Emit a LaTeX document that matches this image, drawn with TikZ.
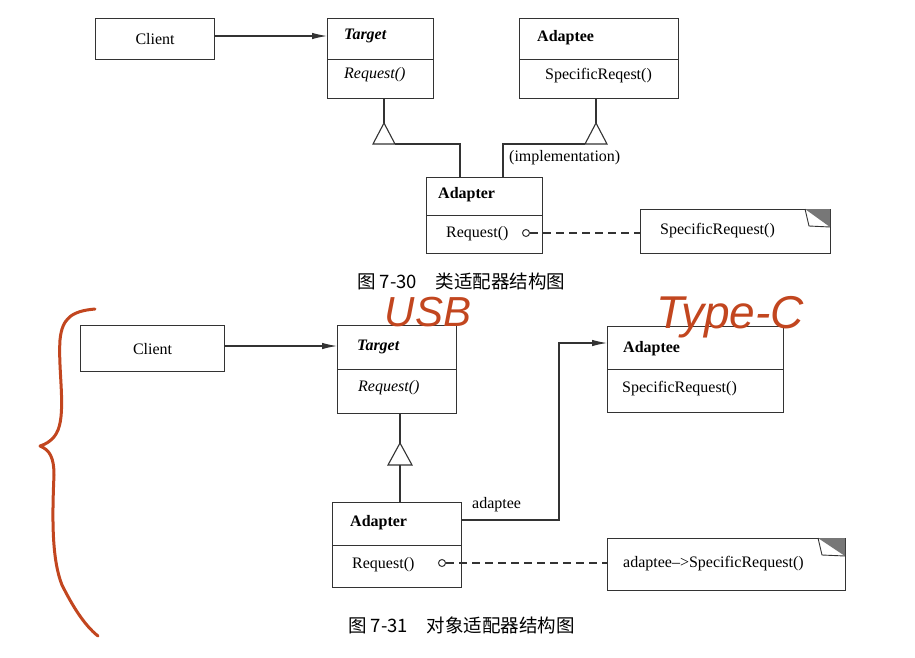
\documentclass[tikz,border=0pt]{standalone}
\usepackage{fontspec}
\setmainfont{Liberation Serif}
\newfontfamily\cjk{Noto Sans CJK SC}
\newfontfamily\handfont{Liberation Sans}
\usetikzlibrary{arrows.meta}
\definecolor{ln}{HTML}{333333}
\definecolor{ink}{HTML}{C2461F}
\definecolor{fold}{HTML}{777777}
\tikzset{
  x=1pt, y=-1pt,
  box/.style={draw=ln, line width=1.2pt, rectangle, inner sep=0pt, anchor=north west},
  lbl/.style={font=\fontsize{16}{18}\selectfont, inner sep=0pt, anchor=west},
  conn/.style={draw=ln, line width=1.1pt},
  assoc/.style={conn, -{Latex[length=15pt,width=6.5pt]}},
  dashln/.style={conn, dash pattern=on 8pt off 5pt},
  opencirc/.style={circle, draw=ln, line width=1pt, fill=white, minimum size=7pt, inner sep=0pt},
  caption/.style={font=\cjk\fontsize{18.5}{20}\selectfont, inner sep=0pt, anchor=west},
  hand/.style={text=ink, inner sep=0pt, anchor=base},
}
\begin{document}
\begin{tikzpicture}
\fill[white] (0,0) rectangle (915,657);
\useasboundingbox (0,0) rectangle (915,657);

% ================= Fig 7-30 =================
\node[box, minimum width=119pt, minimum height=41pt] (c1) at (95,18) {};
\node[lbl, anchor=center] (c1t) at (c1.center) {Client};

\node[box, minimum width=106pt, minimum height=41pt] (t1a) at (327,18) {};
\node[box, minimum width=106pt, minimum height=39pt] (t1b) at (327,59) {};
\node[lbl] (t1n) at (344,36) {\textbf{\textit{Target}}};
\node[lbl] (t1m) at (344,75) {\textit{Request()}};

\node[box, minimum width=159pt, minimum height=41pt] (e1a) at (519,18) {};
\node[box, minimum width=159pt, minimum height=39pt] (e1b) at (519,59) {};
\node[lbl] (e1n) at (537,38) {\textbf{Adaptee}};
\node[lbl] (e1m) at (545,76) {SpecificReqest()};

\node[box, minimum width=116pt, minimum height=38pt] (a1a) at (426,177) {};
\node[box, minimum width=116pt, minimum height=38pt] (a1b) at (426,215) {};
\node[lbl] (a1n) at (438,195) {\textbf{Adapter}};
\node[lbl] (a1m) at (446,234) {Request()};
\node[opencirc] (a1c) at (526,233) {};

% note 1
\node[box, minimum width=190pt, minimum height=44pt] (n1) at (640,209) {};
\node[lbl] (n1t) at (660,231) {SpecificRequest()};
\fill[fold] (805,209) -- (830,209) -- (830,227) -- cycle;
\draw[conn, line width=0.9pt] (805,209) -- (809,226) -- (830,227);

% connectors fig 7-30
\draw[assoc] (c1.east |- 0,36) -- (t1a.west |- 0,36);
\coordinate (tri1) at (384,123);
\coordinate (tri2) at (596,123);
\draw[conn] (t1b.south -| tri1) -- (tri1);
\draw[conn, fill=white] (tri1) -- (395,144) -- (373,144) -- cycle;
\draw[conn] (395,144) -| (a1a.north -| 460,0);
\draw[conn] (e1b.south -| tri2) -- (tri2);
\draw[conn, fill=white] (tri2) -- (607,144) -- (585,144) -- cycle;
\draw[conn] (585,144) -| (a1a.north -| 503,0);
\node[lbl] (impl) at (509,158) {(implementation)};
\draw[dashln] (a1c.east) -- (n1.west |- a1c);

\node[caption] (cap1) at (357,281) {图 7-30\hspace{1em}类适配器结构图};

% ================= Fig 7-31 =================
\node[box, minimum width=144pt, minimum height=46pt] (c2) at (80,325) {};
\node[lbl, anchor=center] (c2t) at (c2.center) {Client};

\node[box, minimum width=119pt, minimum height=44pt] (t2a) at (337,325) {};
\node[box, minimum width=119pt, minimum height=44pt] (t2b) at (337,369) {};
\node[lbl] (t2n) at (357,347) {\textbf{\textit{Target}}};
\node[lbl] (t2m) at (358,388) {\textit{Request()}};

\node[box, minimum width=176pt, minimum height=43pt] (e2a) at (607,326) {};
\node[box, minimum width=176pt, minimum height=43pt] (e2b) at (607,369) {};
\node[lbl] (e2n) at (623,349) {\textbf{Adaptee}};
\node[lbl] (e2m) at (622,389) {SpecificRequest()};

\node[box, minimum width=129pt, minimum height=43pt] (a2a) at (332,502) {};
\node[box, minimum width=129pt, minimum height=42pt] (a2b) at (332,545) {};
\node[lbl] (a2n) at (350,523) {\textbf{Adapter}};
\node[lbl] (a2m) at (352,565) {Request()};
\node[opencirc] (a2c) at (442,563) {};

% note 2
\node[box, minimum width=238pt, minimum height=52pt] (n2) at (607,538) {};
\node[lbl] (n2t) at (623,564) {adaptee–>SpecificRequest()};
\fill[fold] (818,538) -- (845,538) -- (845,556) -- cycle;
\draw[conn, line width=0.9pt] (818,538) -- (822,555) -- (845,556);

% connectors fig 7-31
\draw[assoc] (c2.east |- 0,346) -- (t2a.west |- 0,346);
\coordinate (tri3) at (400,443);
\draw[conn] (t2b.south -| tri3) -- (tri3);
\draw[conn, fill=white] (tri3) -- (412,465) -- (388,465) -- cycle;
\draw[conn] (400,465) -- (a2a.north -| tri3);
\coordinate (bend1) at (559,520);
\coordinate (bend2) at (559,343);
\draw[assoc] (a2a.east |- bend1) -- (bend1) -- (bend2) -- (e2a.west |- bend2);
\node[lbl] (adl) at (472,505) {adaptee};
\draw[dashln] (a2c.east) -- (n2.west |- a2c);

\node[caption] (cap2) at (348,625) {图 7-31\hspace{1em}对象适配器结构图};

% ================= handwritten annotations =================
\node[hand, font=\handfont\itshape\fontsize{42}{44}\selectfont] (usb) at (428,326) {USB};
\node[hand, font=\handfont\itshape\fontsize{46}{48}\selectfont] (typec) at (730,328) {Type-C};
\draw[ink, line width=3pt, line cap=round, line join=round]
  (95,309) .. controls (72,311) and (62,318) .. (60,340)
  .. controls (58,370) and (66,410) .. (58,430)
  .. controls (54,440) and (46,444) .. (40,446)
  .. controls (50,450) and (54,458) .. (54,475)
  .. controls (52,520) and (52,560) .. (62,585)
  .. controls (72,605) and (84,625) .. (98,636);
\end{tikzpicture}
\end{document}
